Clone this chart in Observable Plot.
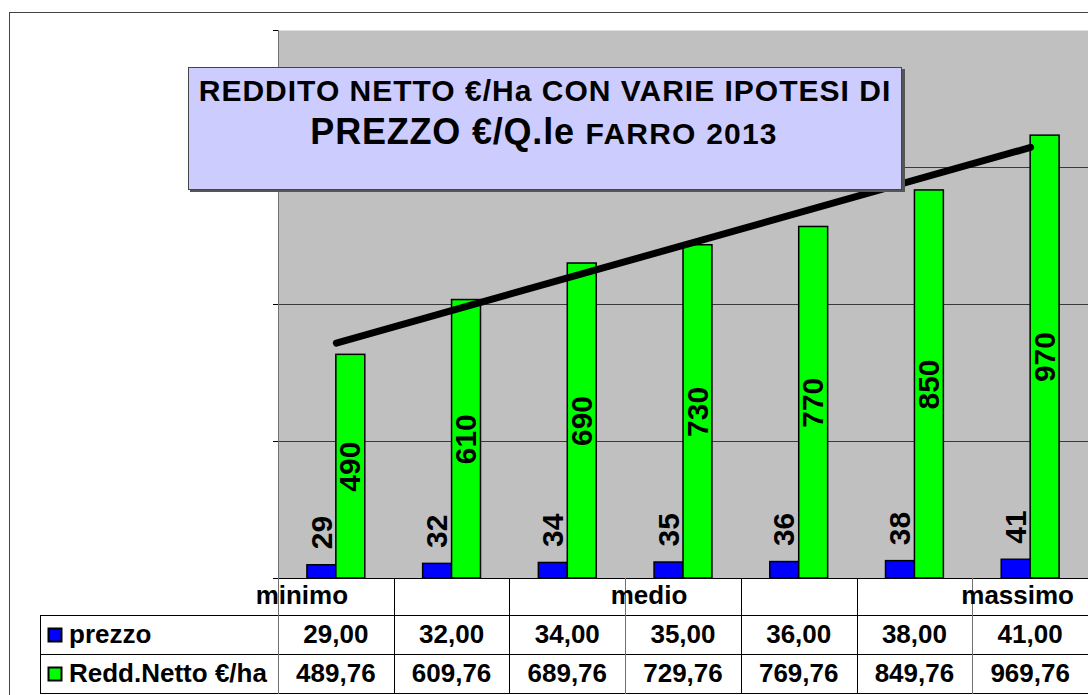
<!DOCTYPE html>
<html>
<head>
<meta charset="utf-8">
<script src="https://cdn.jsdelivr.net/npm/d3@7"></script>
<script src="https://cdn.jsdelivr.net/npm/@observablehq/plot@0.6"></script>
<style>
  html, body { margin: 0; padding: 0; background: #fff; overflow: hidden; }
  #chart { position: relative; width: 1088px; height: 695px; }
  svg { font-family: "Liberation Sans", Arial, sans-serif; }
</style>
</head>
<body>
<div id="chart"></div>
<script>
// ---- data ----
const categories = ["minimo", "", "", "medio", "", "", "massimo"];
const prezzo = [29, 32, 34, 35, 36, 38, 41];
const reddito = [489.76, 609.76, 689.76, 729.76, 769.76, 849.76, 969.76];
const seriesNames = ["prezzo", "Redd.Netto €/ha"];
const seriesColors = ["#0000FF", "#00FF00"];
const yTicks = [0, 300, 600, 900, 1200];
const titleLine1 = "REDDITO NETTO €/Ha CON VARIE IPOTESI DI";
const titleLine2a = "PREZZO €/Q.le";
const titleLine2b = "FARRO 2013";

const it = d3.formatLocale({decimal: ",", thousands: ".", grouping: [3], currency: ["€", ""]});
const fmt2 = it.format(".2f");
const fmt0 = it.format(".0f");

const data = categories.map((c, k) => ({i: k + 1, cat: c, prezzo: prezzo[k], redd: reddito[k]}));

const W = 1088, H = 695;
const chart = Plot.plot({
  width: W, height: H,
  marginLeft: 278, marginRight: 0, marginTop: 30, marginBottom: 117,
  style: {background: "transparent", overflow: "visible", fontFamily: "Liberation Sans, Arial, sans-serif"},
  x: {domain: [0.5, 7.5], axis: null},
  y: {domain: [0, 1200], axis: null},
  marks: [
    Plot.frame({fill: "#C0C0C0", stroke: "none"}),
    Plot.ruleY(yTicks.slice(1, -1), {stroke: "#3a3a3a", strokeWidth: 1}),
    Plot.axisY({ticks: yTicks, tickSize: 5, tickFormat: () => "", stroke: "#000", strokeWidth: 1}),
    Plot.ruleX([0.5], {stroke: "#707070", strokeWidth: 1}),
    Plot.ruleY([0], {stroke: "#000", strokeWidth: 1}),
    Plot.rectY(data, {x1: d => d.i - 0.25, x2: d => d.i, y: "prezzo", fill: seriesColors[0], stroke: "#000", strokeWidth: 1.5}),
    Plot.rectY(data, {x1: d => d.i, x2: d => d.i + 0.25, y: "redd", fill: seriesColors[1], stroke: "#000", strokeWidth: 1.5}),
    Plot.text(data, {x: d => d.i - 0.125, y: "prezzo", text: d => fmt0(d.prezzo), rotate: -90, textAnchor: "start", dy: -16,
      fontSize: 30, fontWeight: "bold", fill: "#000"}),
    Plot.text(data, {x: d => d.i + 0.125, y: d => d.redd / 2, text: d => fmt0(d.redd), rotate: -90, textAnchor: "middle",
      fontSize: 30, fontWeight: "bold", fill: "#000"}),
    Plot.linearRegressionY(data, {x: "i", y: "redd", stroke: "#000", strokeWidth: 7, ci: 0, strokeLinecap: "round"})
  ]
});
document.getElementById("chart").appendChild(chart);

const svg = d3.select(chart);
const xs = chart.scale("x");
const X = v => xs.apply(v);

// outer chart border
svg.append("rect").attr("x", 9.5).attr("y", 12.5).attr("width", W + 20).attr("height", H + 20)
  .attr("fill", "none").attr("stroke", "#444").attr("stroke-width", 1);

// title box
const tb = svg.append("g").attr("text-anchor", "middle").attr("fill", "#000");
tb.append("rect").attr("x", 190).attr("y", 69).attr("width", 715).attr("height", 123).attr("fill", "#555");
tb.append("rect").attr("x", 188.5).attr("y", 67.5).attr("width", 713).attr("height", 122)
  .attr("fill", "#CCCCFF").attr("stroke", "#444").attr("stroke-width", 1);
tb.append("text").attr("x", 545).attr("y", 101)
  .attr("font-size", 30).attr("font-weight", "bold").attr("letter-spacing", 1.0).text(titleLine1);
const t2 = tb.append("text").attr("x", 544).attr("y", 144).attr("font-weight", "bold");
t2.append("tspan").attr("font-size", 36).attr("letter-spacing", 0.8).text(titleLine2a + " ");
t2.append("tspan").attr("font-size", 30).attr("letter-spacing", 1.2).text(titleLine2b);

// data table
const tbl = svg.append("g").attr("font-weight", "bold").attr("font-size", 26).attr("fill", "#000").attr("text-anchor", "start");
[615.5, 654.5, 693.5].forEach(y => tbl.append("line").attr("x1", 40.5).attr("x2", W).attr("y1", y).attr("y2", y)
  .attr("stroke", "#000").attr("stroke-width", 1));
tbl.append("line").attr("x1", 40.5).attr("x2", 40.5).attr("y1", 615).attr("y2", 694).attr("stroke", "#000");
data.forEach(d => {
  const xl = Math.round(X(d.i - 0.5)) + 0.5;
  const grey = (d.i === 1 || d.i === 4 || d.i === 7);
  tbl.append("line").attr("x1", xl).attr("x2", xl).attr("y1", 578).attr("y2", 694)
    .attr("stroke", grey ? "#707070" : "#000").attr("stroke-width", 1);
});
// header labels
data.forEach((d, k) => {
  if (!d.cat) return;
  const last = k === data.length - 1;
  tbl.append("text").attr("y", 604)
    .attr("text-anchor", last ? "end" : "middle")
    .attr("x", last ? W - 14 : X(d.i) - 34)
    .text(d.cat);
});
// legend keys + series names
const rowBase = [643, 682], keyY = [628, 667];
seriesNames.forEach((n, k) => {
  tbl.append("rect").attr("x", 48.5).attr("y", keyY[k] + 0.5).attr("width", 13).attr("height", 13)
    .attr("fill", seriesColors[k]).attr("stroke", "#000").attr("stroke-width", 2);
  tbl.append("text").attr("x", 69).attr("y", rowBase[k]).attr("text-anchor", "start").text(n);
});
// values
data.forEach(d => {
  tbl.append("text").attr("x", X(d.i)).attr("y", rowBase[0]).attr("text-anchor", "middle").text(fmt2(d.prezzo));
  tbl.append("text").attr("x", X(d.i)).attr("y", rowBase[1]).attr("text-anchor", "middle").text(fmt2(d.redd));
});
</script>
</body>
</html>
